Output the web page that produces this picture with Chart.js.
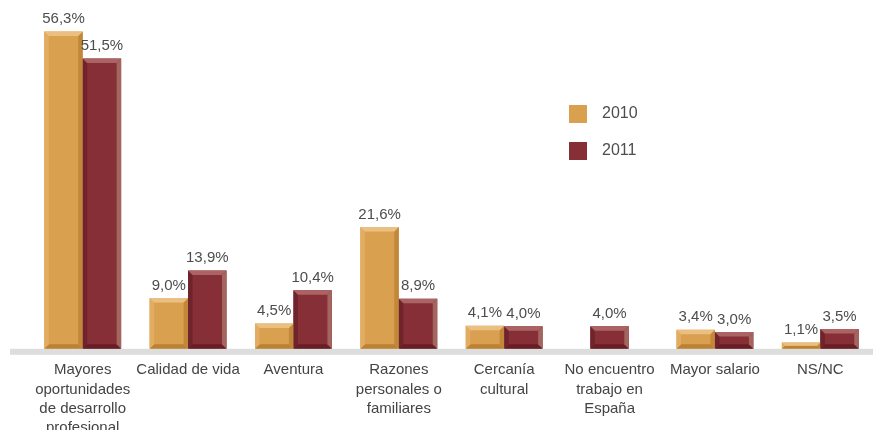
<!DOCTYPE html>
<html>
<head>
<meta charset="utf-8">
<script src="https://cdn.jsdelivr.net/npm/chart.js@4"></script>
<style>
  html, body { margin: 0; padding: 0; background: #fff; overflow: hidden; }
  #wrap { position: relative; width: 873px; height: 449px; }
</style>
</head>
<body>
<div id="wrap"><canvas id="chart"></canvas></div>
<script>
const categories = [
  ["Mayores", "oportunidades", "de desarrollo", "profesional"],
  "Calidad de vida",
  "Aventura",
  ["Razones", "personales o", "familiares"],
  ["Cercanía", "cultural"],
  ["No encuentro", "trabajo en", "España"],
  "Mayor salario",
  "NS/NC"
];
const seriesNames = ["2010", "2011"];
const values2010 = [56.3, 9.0, 4.5, 21.6, 4.1, null, 3.4, 1.1];
const values2011 = [51.5, 13.9, 10.4, 8.9, 4.0, 4.0, 3.0, 3.5];

const FONT = "'Liberation Sans', Arial, sans-serif";

function fmt(v) {
  return v.toFixed(1).replace(".", ",") + "%";
}

// bevelled look of the bars
const bevelPlugin = {
  id: "bevel",
  afterDatasetsDraw(chart) {
    const ctx = chart.ctx;
    chart.data.datasets.forEach((ds, i) => {
      const meta = chart.getDatasetMeta(i);
      meta.data.forEach((el, j) => {
        if (ds.data[j] == null) return;
        const p = el.getProps(["x", "y", "base", "width"], true);
        const l = p.x - p.width / 2, r = p.x + p.width / 2;
        const t = p.y, bot = p.base;
        const b = Math.min(4.5, (bot - t) / 2);
        const poly = (pts, col) => {
          ctx.beginPath();
          ctx.moveTo(pts[0][0], pts[0][1]);
          pts.slice(1).forEach(q => ctx.lineTo(q[0], q[1]));
          ctx.closePath();
          ctx.fillStyle = col;
          ctx.fill();
        };
        ctx.save();
        poly([[l, bot], [r, bot], [r - b, bot - b], [l + b, bot - b]], ds.bevel.bottom);
        poly([[l, t], [l + b, t + b], [l + b, bot - b], [l, bot]], ds.bevel.left);
        poly([[r, t], [r, bot], [r - b, bot - b], [r - b, t + b]], ds.bevel.right);
        poly([[l, t], [r, t], [r - b, t + b], [l + b, t + b]], ds.bevel.top);
        ctx.restore();
      });
    });
  }
};

// value labels above bars
const valueLabels = {
  id: "valueLabels",
  afterDatasetsDraw(chart) {
    const ctx = chart.ctx;
    ctx.save();
    ctx.font = "15px " + FONT;
    ctx.fillStyle = "#4d4d4d";
    ctx.textAlign = "center";
    ctx.textBaseline = "bottom";
    chart.data.datasets.forEach((ds, i) => {
      chart.getDatasetMeta(i).data.forEach((el, j) => {
        const v = ds.data[j];
        if (v == null) return;
        ctx.fillText(fmt(v), el.x, el.y - 5);
      });
    });
    ctx.restore();
  }
};

// grey base band + legend
const decor = {
  id: "decor",
  beforeDatasetsDraw(chart) {
    const ctx = chart.ctx;
    const y0 = chart.scales.y.getPixelForValue(0);
    ctx.save();
    ctx.fillStyle = "#dcdddd";
    ctx.fillRect(10, y0, chart.width - 10, 6);
    ctx.restore();
  },
  afterDraw(chart) {
    const ctx = chart.ctx;
    ctx.save();
    ctx.font = "16px " + FONT;
    ctx.textBaseline = "middle";
    ctx.textAlign = "left";
    chart.data.datasets.forEach((ds, i) => {
      const y = 105 + i * 37;
      ctx.fillStyle = ds.backgroundColor;
      ctx.fillRect(569, y, 18, 18);
      ctx.fillStyle = "#4d4d4d";
      ctx.fillText(ds.label, 602, y + 9);
    });
    ctx.restore();
  }
};

new Chart(document.getElementById("chart"), {
  type: "bar",
  data: {
    labels: categories,
    datasets: [
      {
        label: seriesNames[0],
        data: values2010,
        backgroundColor: "#d9a04f",
        bevel: { top: "#ebbf82", left: "#e2ad62", right: "#c3873a", bottom: "#bd8134" }
      },
      {
        label: seriesNames[1],
        data: values2011,
        backgroundColor: "#862f37",
        bevel: { top: "#ab6463", left: "#6f242b", right: "#a3655e", bottom: "#681e25" }
      }
    ]
  },
  options: {
    responsive: true,
    maintainAspectRatio: false,
    animation: false,
    skipNull: true,
    categoryPercentage: 0.73,
    barPercentage: 1,
    maxBarThickness: 38.5,
    layout: { padding: { left: 30, right: 0, top: 19, bottom: 0 } },
    plugins: {
      legend: { display: false },
      tooltip: { enabled: false }
    },
    scales: {
      x: {
        grid: { display: false, drawTicks: false },
        border: { display: false },
        ticks: {
          color: "#444",
          font: { family: FONT, size: 15, lineHeight: 1.27 },
          padding: 12,
          maxRotation: 0,
          autoSkip: false
        }
      },
      y: {
        display: false,
        min: 0,
        max: 58.5
      }
    }
  },
  plugins: [decor, bevelPlugin, valueLabels]
});
</script>
</body>
</html>
